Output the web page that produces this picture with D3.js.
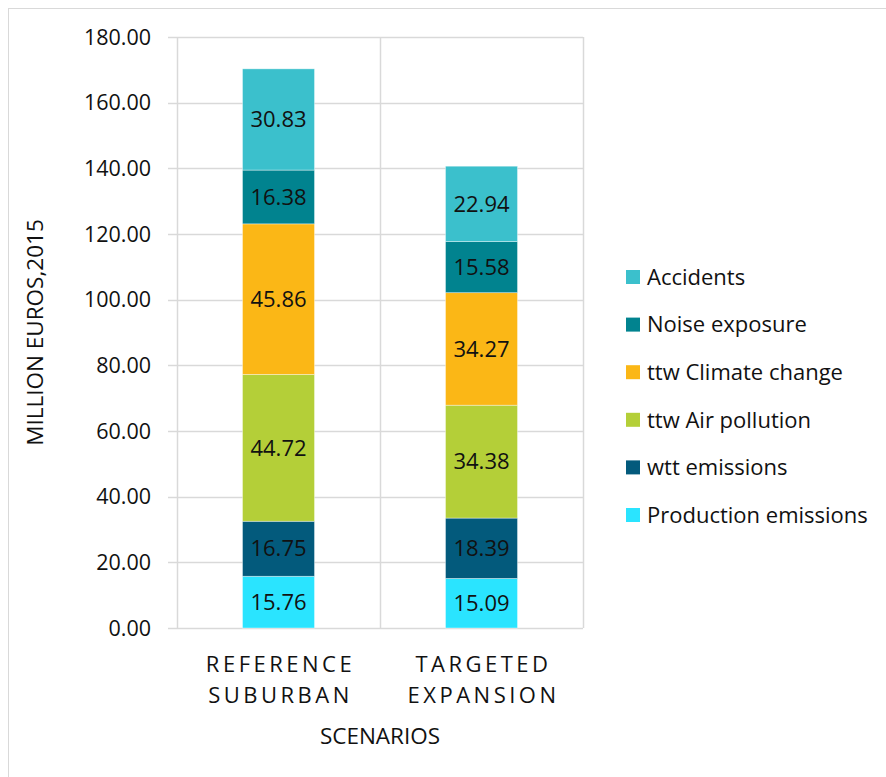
<!DOCTYPE html>
<html>
<head>
<meta charset="utf-8">
<script src="https://cdn.jsdelivr.net/npm/d3@7"></script>
<style>
  body { margin: 0; background: #fff; }
  text { font-family: "Open Sans", "Noto Sans", sans-serif; fill: #111; }
</style>
</head>
<body>
<div id="chart"></div>
<script>
const width = 886, height = 777;

// data
const scenarios = ["REFERENCE SUBURBAN", "TARGETED EXPANSION"];
const scenarioLines = [["REFERENCE", "SUBURBAN"], ["TARGETED", "EXPANSION"]];
const seriesNames = ["Production emissions", "wtt emissions", "ttw Air pollution",
    "ttw Climate change", "Noise exposure", "Accidents"];
const seriesColors = ["#2ae4ff", "#035a7c", "#b4cf38", "#fbb716", "#01838f", "#3bc0cc"];
const productionValues = [15.76, 15.09];
const wttValues = [16.75, 18.39];
const airValues = [44.72, 34.38];
const climateValues = [45.86, 34.27];
const noiseValues = [16.38, 15.58];
const accidentValues = [30.83, 22.94];
const yTicks = [0, 20, 40, 60, 80, 100, 120, 140, 160, 180];

var allSeries = [productionValues, wttValues, airValues, climateValues, noiseValues, accidentValues];

// rows for d3.stack
var rows = scenarios.map(function (s, i) {
    var r = { scenario: s };
    seriesNames.forEach(function (n, j) { r[n] = allSeries[j][i]; });
    return r;
});

var margin = { left: 177, right: 303, top: 37, bottom: 149 };
var plotW = width - margin.left - margin.right;
var plotH = height - margin.top - margin.bottom;

var svg = d3.select("#chart").append("svg")
    .attr("width", width)
    .attr("height", height);

// outer frame
svg.append("rect")
    .attr("x", 8.5).attr("y", 8.5)
    .attr("width", width).attr("height", height)
    .attr("fill", "none")
    .attr("stroke", "#d9d9d9");

var g = svg.append("g").attr("transform", "translate(" + margin.left + "," + margin.top + ")");

var x = d3.scaleBand().domain(scenarios).range([0, plotW]).paddingInner(0).paddingOuter(0);
var y = d3.scaleLinear().domain([0, 180]).range([plotH, 0]);

// horizontal gridlines with ticks extending left
g.append("g")
    .selectAll("line")
    .data(yTicks)
    .enter()
    .append("line")
    .attr("x1", -9).attr("x2", plotW)
    .attr("y1", function (d) { return Math.round(y(d)) + 0.5; })
    .attr("y2", function (d) { return Math.round(y(d)) + 0.5; })
    .attr("stroke", "#d9d9d9")
    .attr("stroke-width", 1.5);

// vertical category separators
var seps = [0].concat(scenarios.map(function (s) { return x(s) + x.bandwidth(); }));
g.append("g")
    .selectAll("line")
    .data(seps)
    .enter()
    .append("line")
    .attr("x1", function (d) { return Math.round(d) + 0.5; })
    .attr("x2", function (d) { return Math.round(d) + 0.5; })
    .attr("y1", 0).attr("y2", plotH)
    .attr("stroke", "#d9d9d9")
    .attr("stroke-width", 1.5);

// y tick labels
g.append("g")
    .selectAll("text")
    .data(yTicks)
    .enter()
    .append("text")
    .attr("x", -26)
    .attr("y", function (d) { return y(d); })
    .attr("dy", "0.35em")
    .attr("text-anchor", "end")
    .style("font-size", "21.5px")
    .text(function (d) { return d3.format(".2f")(d); });

// stacked bars
var stack = d3.stack().keys(seriesNames);
var layers = stack(rows);
var barW = 72;

var layer = g.selectAll(".layer")
    .data(layers)
    .enter()
    .append("g")
    .attr("class", "layer")
    .attr("fill", function (d, i) { return seriesColors[i]; });

layer.selectAll("rect")
    .data(function (d) { return d; })
    .enter()
    .append("rect")
    .attr("x", function (d) { return x(d.data.scenario) + x.bandwidth() / 2 - barW / 2; })
    .attr("y", function (d) { return y(d[1]); })
    .attr("width", barW)
    .attr("height", function (d) { return y(d[0]) - y(d[1]); })
    .attr("stroke", "rgba(255,255,255,0.5)")
    .attr("stroke-width", 0.75);

layer.selectAll("text")
    .data(function (d) { return d; })
    .enter()
    .append("text")
    .attr("x", function (d) { return x(d.data.scenario) + x.bandwidth() / 2; })
    .attr("y", function (d) { return (y(d[0]) + y(d[1])) / 2; })
    .attr("dy", "0.35em")
    .attr("text-anchor", "middle")
    .style("font-size", "22px")
    .text(function (d) { return d3.format(".2f")(d[1] - d[0]); });

// x category labels, two lines, letter spaced
scenarios.forEach(function (s, i) {
    var t = g.append("text")
        .attr("x", x(s) + x.bandwidth() / 2)
        .attr("y", plotH + 44)
        .attr("text-anchor", "middle")
        .style("font-size", "22px")
        .style("letter-spacing", "3.5px");
    scenarioLines[i].forEach(function (line, k) {
        t.append("tspan")
            .attr("x", x(s) + x.bandwidth() / 2 + 2)
            .attr("dy", k === 0 ? 0 : 31)
            .text(line);
    });
});

// axis titles
g.append("text")
    .attr("x", plotW / 2)
    .attr("y", plotH + 116)
    .attr("text-anchor", "middle")
    .style("font-size", "22.5px")
    .text("SCENARIOS");

svg.append("text")
    .attr("transform", "translate(43," + (margin.top + plotH / 2) + ") rotate(-90)")
    .attr("text-anchor", "middle")
    .style("font-size", "22.5px")
    .text("MILLION EUROS,2015");

// legend, top entry is the top of the stack
var legendOrder = seriesNames.slice().reverse();
var legend = svg.append("g").attr("transform", "translate(626,277)");
var item = legend.selectAll("g")
    .data(legendOrder)
    .enter()
    .append("g")
    .attr("transform", function (d, i) { return "translate(0," + (i * 47.6) + ")"; });

item.append("rect")
    .attr("x", 0).attr("y", -7)
    .attr("width", 14).attr("height", 14)
    .attr("fill", function (d) { return seriesColors[seriesNames.indexOf(d)]; });

item.append("text")
    .attr("x", 21)
    .attr("y", 0)
    .attr("dy", "0.35em")
    .style("font-size", "22px")
    .text(function (d) { return d; });
</script>
</body>
</html>
